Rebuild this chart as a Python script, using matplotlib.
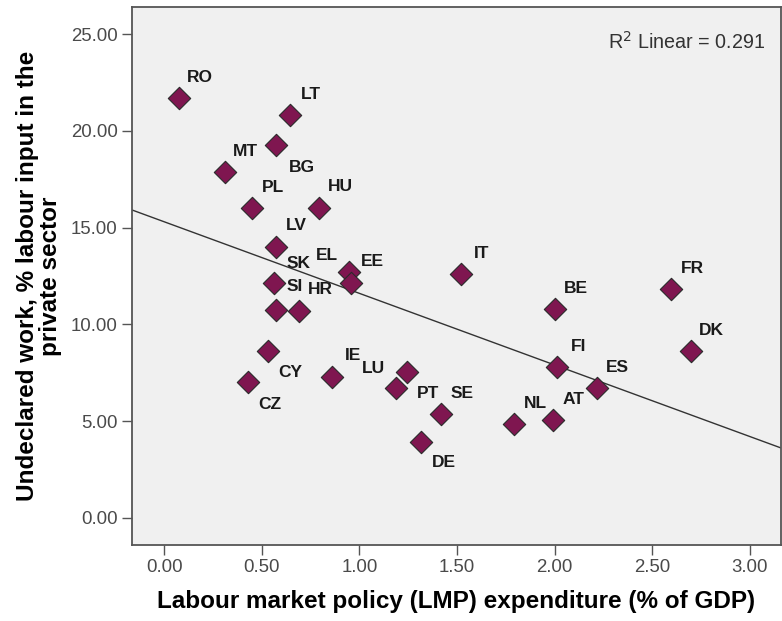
import numpy as np
import matplotlib.pyplot as plt

plt.rcParams['font.family'] = ['Liberation Sans', 'DejaVu Sans']

countries = ['RO', 'LT', 'BG', 'MT', 'PL', 'HU', 'LV', 'EL', 'EE', 'SK', 'SI', 'HR',
             'CY', 'CZ', 'IE', 'LU', 'PT', 'SE', 'DE', 'NL', 'AT', 'FI', 'ES', 'BE',
             'DK', 'FR', 'IT']
lmp = [0.075, 0.643, 0.572, 0.311, 0.451, 0.793, 0.571, 0.946, 0.956, 0.562, 0.572, 0.692,
       0.533, 0.427, 0.859, 1.185, 1.242, 1.418, 1.317, 1.793, 1.990, 2.013, 2.215, 2.000,
       2.697, 2.596, 1.520]
undeclared = [21.69, 20.80, 19.26, 17.86, 16.00, 16.03, 14.00, 12.69, 12.12, 12.12, 10.74, 10.70,
              8.62, 7.00, 7.29, 6.69, 7.52, 5.35, 3.93, 4.83, 5.05, 7.78, 6.69, 10.77,
              8.62, 11.81, 12.60]

# label offsets in pixels (default up-right)
label_off = {'BG': (26, -22), 'EL': (-22, 17), 'SK': (25, 20), 'SI': (19, 23),
             'CY': (22, -21), 'CZ': (22, -22), 'LU': (-22, 20), 'PT': (21, -21),
             'DE': (23, -21), 'EE': (22, 22)}

x = np.array(lmp)
y = np.array(undeclared)

fig = plt.figure(figsize=(7.82, 6.21), dpi=100)
ax = fig.add_axes([132 / 782, 76 / 621, 649 / 782, 537.7 / 621])
ax.set_facecolor('#f0f0f0')

xlim = (-0.165, 3.159)
ax.set_xlim(*xlim)
ax.set_ylim(-1.41, 26.39)

slope, intercept = np.polyfit(x, y, 1)
xx = np.array(xlim)
ax.plot(xx, intercept + slope * xx, color='#333333', lw=1.0, zorder=2)

ax.scatter(x, y, marker='D', s=130, facecolor='#7f1650', edgecolor='#2a2a2a',
           linewidths=0.8, zorder=3)

for c, xi, yi in zip(countries, x, y):
    dx, dy = label_off.get(c, (21, 21))
    ax.annotate(c, (xi, yi), xytext=(dx, dy), textcoords='offset pixels',
                ha='center', va='center', fontsize=12.5, fontweight='bold',
                color='#1a1a1a')

ax.text(0.975, 0.936, 'R$^2$ Linear = 0.291', transform=ax.transAxes,
        ha='right', va='center', fontsize=14.2, color='#333333')

ax.set_xticks(np.arange(0, 3.01, 0.5))
ax.set_yticks(np.arange(0, 25.01, 5))
ax.set_xticklabels([f'{v:.2f}' for v in np.arange(0, 3.01, 0.5)])
ax.set_yticklabels([f'{v:.2f}' for v in np.arange(0, 25.01, 5)])
ax.tick_params(direction='out', length=7, width=1, color='#555555',
               labelsize=13.4, labelcolor='#4a4a4a', pad=3.4)
for sp in ax.spines.values():
    sp.set_color('#555555')
    sp.set_linewidth(1.3)

ax.set_xlabel('Labour market policy (LMP) expenditure (% of GDP)',
              fontsize=17.5, fontweight='bold')
ax.set_ylabel('Undeclared work, % labour input in the\nprivate sector',
              fontsize=17.5, fontweight='bold', linespacing=1.0)
ax.xaxis.set_label_coords(0.5, -0.083)
ax.yaxis.set_label_coords(-0.108, 0.5)

fig.savefig('out.png', dpi=100)
